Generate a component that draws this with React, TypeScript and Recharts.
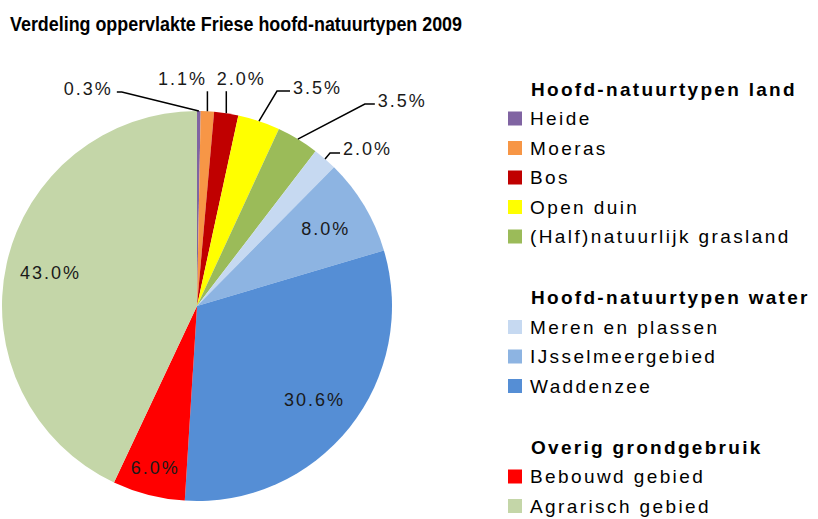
import React from 'react';
import { PieChart, Pie, Cell } from 'recharts';

const title = 'Verdeling oppervlakte Friese hoofd-natuurtypen 2009';
const categories = [
  'Heide',
  'Moeras',
  'Bos',
  'Open duin',
  '(Half)natuurlijk grasland',
  'Meren en plassen',
  'IJsselmeergebied',
  'Waddenzee',
  'Bebouwd gebied',
  'Agrarisch gebied',
];
const shares = [0.3, 1.1, 2.0, 3.5, 3.5, 2.0, 8.0, 30.6, 6.0, 43.0];
const colors = [
  '#8064A2',
  '#F79646',
  '#C00000',
  '#FFFF00',
  '#9BBB59',
  '#C6D9F1',
  '#8DB4E2',
  '#558ED5',
  '#FF0000',
  '#C4D6A8',
];
const groupTitles = ['Hoofd-natuurtypen land', 'Hoofd-natuurtypen water', 'Overig grondgebruik'];
const groupOf = [0, 0, 0, 0, 0, 1, 1, 1, 2, 2];

const data = categories.map((name, i) => ({ name, value: shares[i] }));

const FONT = '"Liberation Sans", Arial, sans-serif';
const RAD = Math.PI / 180;

// leader-line layout for the small slices (offsets relative to the slice's outer edge point)
const leaders: Record<number, { ex: number; ey: number; hx: number; tx: number; ty: number; anchor: string }> = {
  0: { ex: -77, ey: -19, hx: -5, tx: -4, ty: -3, anchor: 'end' },
  1: { ex: 0, ey: -20, hx: 0, tx: -25, ty: -12, anchor: 'middle' },
  2: { ex: 0, ey: -22, hx: 0, tx: 15, ty: -12, anchor: 'middle' },
  3: { ex: 18, ey: -30, hx: 13, tx: 3, ty: -3, anchor: 'start' },
  4: { ex: 67, ey: -35, hx: 10, tx: 3, ty: -3, anchor: 'start' },
  5: { ex: 5, ey: -6, hx: 10, tx: 3, ty: -4, anchor: 'start' },
};

const renderLabel = (props: any) => {
  const { cx, cy, midAngle, outerRadius, index } = props;
  const value = shares[index];
  const text = value.toFixed(1) + '%';
  const cos = Math.cos(-midAngle * RAD);
  const sin = Math.sin(-midAngle * RAD);
  const style = { fontFamily: FONT, fontSize: 18, letterSpacing: 2, fill: '#1a1a1a' };
  if (value >= 5) {
    const r = outerRadius * (value < 7 ? 0.86 : 0.77);
    return (
      <text x={cx + r * cos} y={cy + r * sin} textAnchor="middle" dominantBaseline="central" style={style}>
        {text}
      </text>
    );
  }
  const px = cx + outerRadius * cos;
  const py = cy + outerRadius * sin;
  const L = leaders[index];
  if (!L) return null;
  const ex = px + L.ex;
  const ey = py + L.ey;
  const hx = ex + L.hx;
  return (
    <g>
      <polyline points={`${px},${py} ${ex},${ey} ${hx},${ey}`} fill="none" stroke="#000" strokeWidth={1.5} />
      <text x={hx + L.tx} y={ey + L.ty} textAnchor={L.anchor as any} dominantBaseline="central" style={style}>
        {text}
      </text>
    </g>
  );
};

function Legend() {
  const rows: React.ReactNode[] = [];
  let y = 89;
  const step = 29.5;
  groupTitles.forEach((g, gi) => {
    if (gi > 0) y += 61 - step;
    rows.push(
      <text key={'g' + gi} x={531} y={y} dominantBaseline="central"
        style={{ fontFamily: FONT, fontSize: 19, fontWeight: 700, letterSpacing: 2.3, fill: '#000' }}>
        {g}
      </text>
    );
    categories.forEach((c, i) => {
      if (groupOf[i] !== gi) return;
      y += step;
      rows.push(
        <g key={'i' + i}>
          <rect x={508} y={y - 7} width={14} height={14} fill={colors[i]} />
          <text x={530} y={y} dominantBaseline="central"
            style={{ fontFamily: FONT, fontSize: 19, letterSpacing: 2.4, fill: '#000' }}>
            {c}
          </text>
        </g>
      );
    });
    y += step;
  });
  return <g>{rows}</g>;
}

export default function App() {
  return (
    <div style={{ position: 'absolute', left: 0, top: 0, width: 818, height: 519, background: '#fff' }}>
      <PieChart width={818} height={519} margin={{ top: 0, right: 0, bottom: 0, left: 0 }}
        style={{ position: 'absolute', left: 0, top: 0 }}>
        <Pie
          data={data}
          dataKey="value"
          nameKey="name"
          cx={197}
          cy={306}
          outerRadius={195}
          startAngle={90}
          endAngle={-270}
          stroke="none"
          label={renderLabel}
          labelLine={false}
          isAnimationActive={false}
        >
          {data.map((d, i) => (
            <Cell key={d.name} fill={colors[i]} />
          ))}
        </Pie>
      </PieChart>
      <svg width={818} height={519} style={{ position: 'absolute', left: 0, top: 0, pointerEvents: 'none' }}>
        <text x={10} y={31} textLength={452} lengthAdjust="spacingAndGlyphs"
          style={{ fontFamily: FONT, fontSize: 21, fontWeight: 700, fill: '#000' }}>
          {title}
        </text>
        <Legend />
      </svg>
    </div>
  );
}
